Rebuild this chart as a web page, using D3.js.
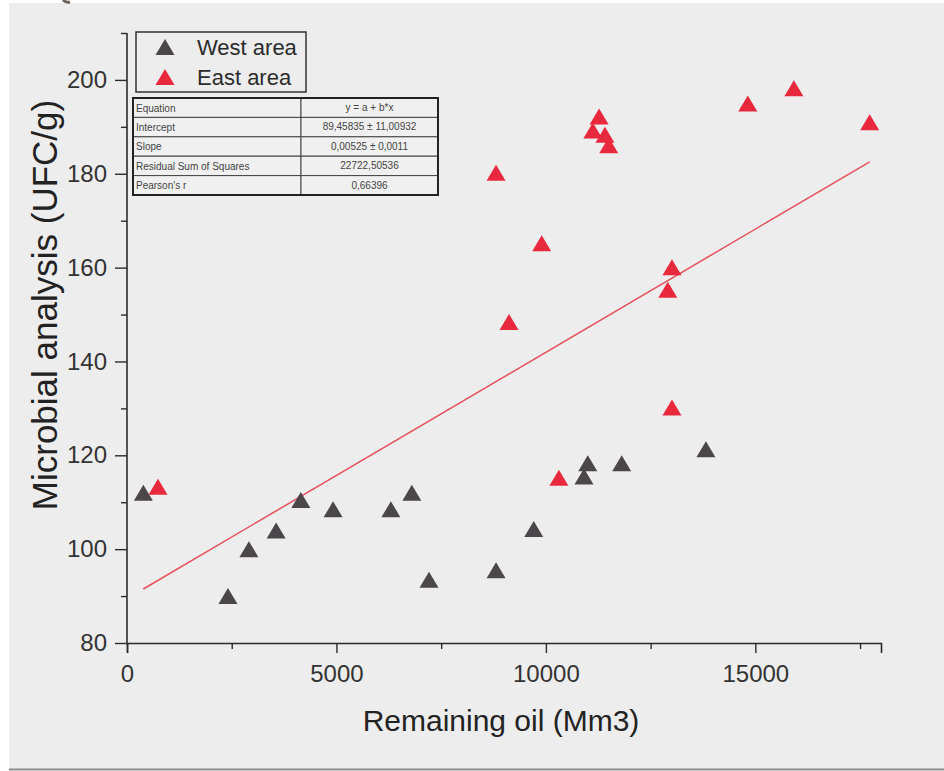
<!DOCTYPE html>
<html>
<head>
<meta charset="utf-8">
<script src="https://cdn.jsdelivr.net/npm/d3@7"></script>
<style>
  body { margin: 0; background: #fff; }
  svg { display: block; font-family: "Liberation Sans", Arial, sans-serif; }
</style>
</head>
<body>
<div id="chart"></div>
<script>
// West area samples (remaining oil, microbial count)
var westX = [390, 2410, 2910, 3560, 4150, 4920, 6300, 6800, 7210, 8810, 9710, 10910, 11000, 11810, 13820];
var westY = [112, 90, 100, 104, 110.5, 108.5, 108.5, 112, 93.5, 95.5, 104.3, 115.5, 118.3, 118.3, 121.3];

// East area samples
var eastX = [740, 8810, 9120, 9900, 10310, 11270, 11120, 11410, 11500, 13010, 12910, 13010, 14820, 15920, 17730];
var eastY = [113.3, 180.2, 148.4, 165.2, 115.2, 192.2, 189.2, 188.3, 186.1, 160.1, 155.3, 130.2, 195, 198.2, 191];

// linear fit
var intercept = 89.45835;
var slope = 0.00525;

var tableLabels = ["Equation", "Intercept", "Slope", "Residual Sum of Squares", "Pearson's r"];
var tableValues = ["y = a + b*x", "89,45835 \u00b1 11,00932", "0,00525 \u00b1 0,0011", "22722,50536", "0,66396"];

var legendNames = ["West area", "East area"];
var colors = ["#4b4649", "#e8283c"];

var xMajor = [0, 5000, 10000, 15000];
var xMinor = [2500, 7500, 12500, 17500];
var yMajor = [80, 100, 120, 140, 160, 180, 200];
var yMinor = [90, 110, 130, 150, 170, 190, 210];

var size = { width: 944, height: 771 };

var svg = d3.select("#chart")
  .append("svg")
  .attr("width", size.width)
  .attr("height", size.height);

// panel background
svg.append("rect")
  .attr("x", 9).attr("y", 3)
  .attr("width", size.width - 9).attr("height", 766)
  .attr("fill", "#ededed");
svg.append("line")
  .attr("x1", 9).attr("x2", size.width)
  .attr("y1", 769.5).attr("y2", 769.5)
  .attr("stroke", "#8a8a8a").attr("stroke-width", 2);
// small dark mark at the top edge
svg.append("path")
  .attr("d", "M63,0 Q66,3 70,2")
  .attr("fill", "none").attr("stroke", "#6b6456").attr("stroke-width", 3);

var x = d3.scaleLinear().domain([0, 18000]).range([127, 881]);
var y = d3.scaleLinear().domain([80, 210]).range([643, 33]);

var axisColor = "#2b2b2b";

// x axis
var gx = svg.append("g").attr("transform", "translate(0," + y(80) + ")");
gx.call(d3.axisBottom(x).tickValues(xMajor).tickSize(10).tickPadding(12).tickFormat(d3.format("d")));
gx.append("g").call(d3.axisBottom(x).tickValues(xMinor).tickSize(6).tickFormat(""))
  .select(".domain").remove();
gx.selectAll(".domain").attr("stroke", axisColor).attr("stroke-width", 1.6);
gx.selectAll(".tick line").attr("stroke", axisColor).attr("stroke-width", 1.4);
gx.selectAll(".tick text").attr("fill", "#333").attr("font-size", 24)
  .attr("font-family", "'Liberation Sans', Arial, sans-serif");

// y axis
var gy = svg.append("g").attr("transform", "translate(" + x(0) + ",0)");
gy.call(d3.axisLeft(y).tickValues(yMajor).tickSize(12).tickPadding(8).tickFormat(d3.format("d")));
gy.append("g").call(d3.axisLeft(y).tickValues(yMinor).tickSize(6).tickFormat(""))
  .select(".domain").remove();
gy.select(".domain").attr("d", "M0," + y(210) + "V" + y(80));
gy.selectAll(".domain").attr("stroke", axisColor).attr("stroke-width", 1.6);
gy.selectAll(".tick line").attr("stroke", axisColor).attr("stroke-width", 1.4);
gy.selectAll(".tick text").attr("fill", "#333").attr("font-size", 24)
  .attr("font-family", "'Liberation Sans', Arial, sans-serif");

// axis titles
svg.append("text")
  .attr("x", 501).attr("y", 731)
  .attr("text-anchor", "middle")
  .attr("font-size", 30).attr("fill", "#222")
  .text("Remaining oil (Mm3)");
svg.append("text")
  .attr("transform", "translate(57,305) rotate(-90)")
  .attr("text-anchor", "middle")
  .attr("font-size", 35).attr("fill", "#222")
  .text("Microbial analysis (UFC/g)");

// fit line over the data range
var allX = westX.concat(eastX);
var fitX = d3.extent(allX);
svg.append("line")
  .attr("x1", x(fitX[0])).attr("y1", y(intercept + slope * fitX[0]))
  .attr("x2", x(fitX[1])).attr("y2", y(intercept + slope * fitX[1]))
  .attr("stroke", "#e8505a").attr("stroke-width", 1.5);

var tri = "M0,-8L9.5,8L-9.5,8Z";

function drawSeries(xs, ys, color) {
  svg.append("g").selectAll("path")
    .data(xs.map(function(d, i) { return [d, ys[i]]; }))
    .enter().append("path")
    .attr("d", tri)
    .attr("transform", function(d) { return "translate(" + x(d[0]) + "," + y(d[1]) + ")"; })
    .attr("fill", color);
}
drawSeries(westX, westY, colors[0]);
drawSeries(eastX, eastY, colors[1]);

// legend
var legend = svg.append("g");
legend.append("rect")
  .attr("x", 136).attr("y", 32).attr("width", 170).attr("height", 60)
  .attr("fill", "none").attr("stroke", "#333").attr("stroke-width", 1.5);
legendNames.forEach(function(name, i) {
  legend.append("path").attr("d", tri)
    .attr("transform", "translate(165," + (47 + i * 30) + ")")
    .attr("fill", colors[i]);
  legend.append("text")
    .attr("x", 197).attr("y", 55 + i * 30)
    .attr("font-size", 22).attr("fill", "#2b2b2b")
    .text(name);
});

// fit table
var table = svg.append("g").attr("transform", "translate(133,98)");
var rowH = 19.4, col1 = 168, col2 = 137;
tableLabels.forEach(function(label, i) {
  table.append("rect")
    .attr("x", 0).attr("y", i * rowH).attr("width", col1).attr("height", rowH)
    .attr("fill", "#f0f0f0").attr("stroke", "#444").attr("stroke-width", 1);
  table.append("rect")
    .attr("x", col1).attr("y", i * rowH).attr("width", col2).attr("height", rowH)
    .attr("fill", "#f0f0f0").attr("stroke", "#444").attr("stroke-width", 1);
  table.append("text")
    .attr("x", 3).attr("y", i * rowH + 13.5)
    .attr("font-size", 10).attr("fill", "#444")
    .text(label);
  table.append("text")
    .attr("x", col1 + col2 / 2).attr("y", i * rowH + 13)
    .attr("text-anchor", "middle")
    .attr("font-size", 10).attr("fill", "#444")
    .text(tableValues[i]);
});
table.append("rect")
  .attr("width", col1 + col2).attr("height", rowH * tableLabels.length)
  .attr("fill", "none").attr("stroke", "#222").attr("stroke-width", 2);
</script>
</body>
</html>
